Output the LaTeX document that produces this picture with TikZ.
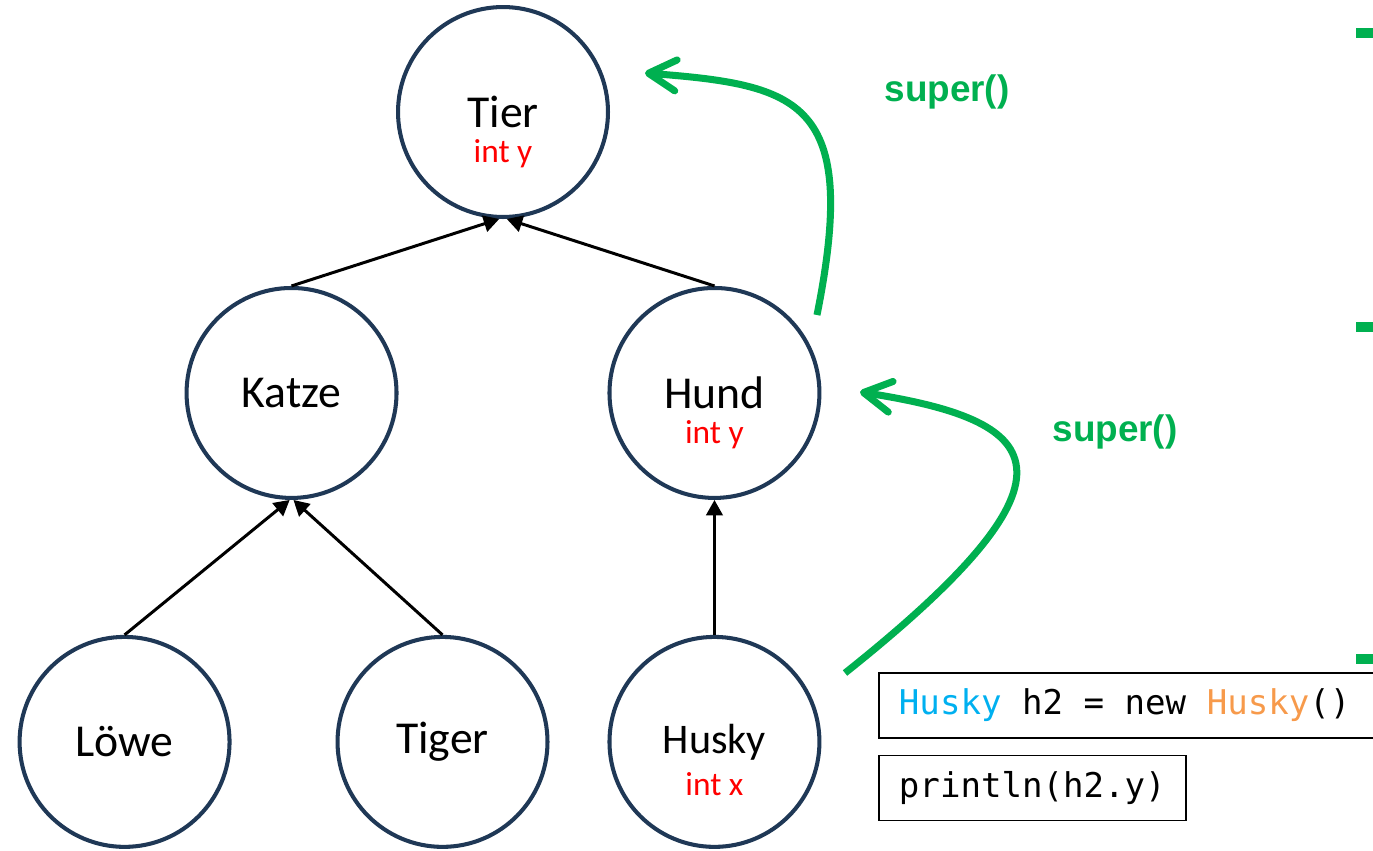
\documentclass[tikz,border=0pt]{standalone}
\usepackage{fontspec}
\setmainfont{Carlito}
\newfontfamily\codefont{DejaVu Sans Mono}
\newfontfamily\arialfont{Liberation Sans}
\usetikzlibrary{arrows.meta}

\definecolor{ringblue}{HTML}{1F3856}
\definecolor{supergreen}{HTML}{00B050}
\definecolor{typeblue}{HTML}{00B0F0}
\definecolor{ctororange}{HTML}{F79A4B}

% 等寬空白
\newcommand{\codegap}{\hspace*{0.602em}}

\begin{document}
\begin{tikzpicture}[
        % 全局樣式設定 (1 單位 = 1 像素)
        x=0.02cm, y=-0.02cm,
        % 每一層的間距
        level 1/.style={level distance=5.62cm, sibling distance=8.46cm},
        level 2/.style={level distance=6.98cm, sibling distance=6.36cm},
        child anchor=north,
        % 節點樣式:深藍框、白底、圓形
        vertex/.style={
            circle,
            draw=ringblue,
            line width=2.3pt,
            fill=white,
            minimum size=4.2cm,
            inner sep=0pt,
            font=\fontsize{26}{30}\selectfont
        },
        % 屬性文字 (紅色)
        attr/.style={
            text=red,
            font=\fontsize{19}{22}\selectfont,
            text height=0.7em,
            text depth=0.2em,
            inner sep=0pt
        },
        % 連線樣式:箭頭指向父類別
        edge from parent/.style={
            draw,
            black,
            line width=1.7pt,
            {Triangle[length=0.31cm,width=0.33cm]}-
        },
        % super() 綠色箭頭與文字
        superarrow/.style={
            draw=supergreen,
            line width=4pt,
            -{Straight Barb[length=0.55cm,width=0.62cm,round]}
        },
        supertext/.style={
            text=supergreen,
            font=\arialfont\fontsize{21}{25}\selectfont\bfseries
        },
        % 程式碼方框
        codebox/.style={
            draw=black,
            line width=1.1pt,
            minimum height=1.3cm,
            inner xsep=0.4cm,
            anchor=west,
            font=\codefont\fontsize{19.4}{23}\selectfont
        }
    ]

    % 畫布範圍
    \path[use as bounding box, clip] (0,0) rectangle (1373,850);

    % --- 樹狀結構開始 ---
    \node[vertex] (tier) at (503,112) {Tier}
        % --- 左半邊 ---
        child[parent anchor=268.4] {
            node[vertex] (katze) {Katze}
            child[xshift=-0.16cm, parent anchor=269] { node[vertex] (loewe) {Löwe} }
            child[xshift=-0.16cm, parent anchor=271.5] { node[vertex] (tiger) {Tiger} }
        }
        % --- 右半邊 ---
        child[parent anchor=272.7] {
            node[vertex] (hund) {Hund}
            child[parent anchor=south] { node[vertex, font=\fontsize{24}{28}\selectfont] (husky) {Husky} }
        };

    % 屬性
    \node[attr] (tier-y) at ([yshift=-0.92cm]tier.center) {int y};
    \node[attr] (hund-y) at ([yshift=-0.92cm]hund.center) {int y};
    \node[attr] (husky-x) at ([yshift=-0.98cm]husky.center) {int x};

    % super() 呼叫
    \coordinate (husky-out) at (845,673);
    \coordinate (hund-in) at (860,392);
    \coordinate (hund-out) at (817,315);
    \coordinate (tier-in) at (645,73);
    \draw[superarrow] (hund-out) .. controls (860,100) and (800,85) .. (tier-in);
    \draw[superarrow] (husky-out) .. controls (1100,470) and (1040,420) .. (hund-in);
    \node[supertext] (super-tier) at (947,92) {super()};
    \node[supertext] (super-hund) at (1115,432) {super()};

    % 程式碼
    \node[codebox, text width=9.6cm] (decl) at (878,705.5)
        {\noindent\textcolor{typeblue}{Husky}\codegap h2\codegap=\codegap new\codegap\textcolor{ctororange}{Husky}()};
    \node[codebox] (print) at (878,788) {println(h2.y)};

    % 右側項目符號
    \fill[supergreen] (1356,28) rectangle (1380,38);
    \fill[supergreen] (1356,322) rectangle (1380,332);
    \fill[supergreen] (1356,654) rectangle (1380,664);
\end{tikzpicture}
\end{document}
